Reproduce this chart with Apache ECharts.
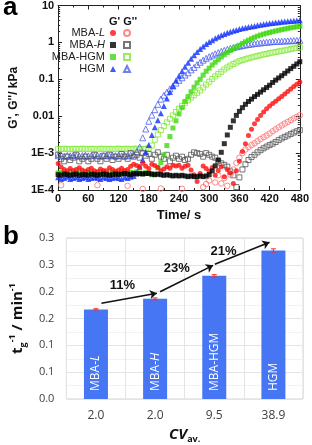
<!DOCTYPE html>
<html><head><meta charset="utf-8">
<script src="https://cdn.jsdelivr.net/npm/echarts@6/dist/echarts.min.js"></script>
<style>html,body{margin:0;padding:0;background:#fff}#c{width:312px;height:445px}</style>
</head><body><div id="c"></div>
<script>
// ---------- panel a data ----------
const times = [0,6,12,18,24,30,36,42,48,54,60,66,72,78,84,90,96,102,108,114,120,126,132,138,144,150,156,162,168,174,180,186,192,198,204,210,216,222,228,234,240,246,252,258,264,270,276,282,288,294,300,306,312,318,324,330,336,342,348,354,360,366,372,378,384,390,396,402,408,414,420,426,432,438,444,450,456,462,468,474,480];

const mbaL_G1 = [5.2e-4,4.2e-4,3.6e-4,3.3e-4,3.8e-4,3.4e-4,3.6e-4,4.0e-4,3.5e-4,3.2e-4,
3.6e-4,3.9e-4,3.3e-4,3.1e-4,3.7e-4,3.4e-4,3.3e-4,4.0e-4,3.6e-4,3.2e-4,
3.5e-4,3.9e-4,3.4e-4,3.6e-4,4.4e-4,5.0e-4,4.6e-4,4.2e-4,5.3e-4,4.4e-4,
3.8e-4,5.0e-4,4.6e-4,4.1e-4,3.3e-4,3.7e-4,4.3e-4,3.9e-4,4.7e-4,4.5e-4,
4.7e-4,3.9e-4,4.4e-4,4.7e-4,3.5e-4,2.6e-4,1.7e-4,2.8e-4,4.5e-4,3.8e-4,
3.2e-4,4.1e-4,2.5e-4,3.4e-4,4.3e-4,2.3e-4,3.6e-4,2.9e-4,1.5e-4,3.3e-4,
6.0e-4,1.1e-3,1.8e-3,3.0e-3,4.4e-3,6.2e-3,8.2e-3,0.0105,0.013,0.0158,
0.0188,0.022,0.0255,0.0295,0.034,0.040,0.047,0.055,0.064,0.074,0.085];

const mbaL_G2 = [null,1.35e-4,null,null,null,null,null,null,null,null,
null,null,null,1.35e-4,null,null,null,null,null,null,
null,null,null,1.3e-4,null,null,null,null,1.07e-4,null,
null,null,null,null,1.1e-4,null,null,null,null,null,
null,1.08e-4,null,null,null,null,null,null,1.2e-4,1.45e-4,
1.8e-4,null,1.6e-4,2.5e-4,1.5e-4,2.1e-4,1.3e-4,2.6e-4,3.6e-4,5.4e-4,
7.5e-4,1.0e-3,1.25e-3,1.45e-3,1.65e-3,1.85e-3,2.1e-3,2.4e-3,2.7e-3,3.0e-3,
3.4e-3,3.9e-3,4.4e-3,5.0e-3,5.6e-3,6.3e-3,7.0e-3,7.8e-3,8.7e-3,9.6e-3,0.0106];

const mbaH_G1 = [2.6e-4,2.5e-4,2.7e-4,2.6e-4,2.5e-4,2.6e-4,2.7e-4,2.5e-4,2.6e-4,2.6e-4,
2.5e-4,2.7e-4,2.6e-4,2.5e-4,2.6e-4,2.7e-4,2.6e-4,2.5e-4,2.6e-4,2.7e-4,
2.6e-4,2.7e-4,2.8e-4,2.7e-4,2.6e-4,2.8e-4,2.7e-4,2.8e-4,2.7e-4,2.8e-4,
2.8e-4,2.7e-4,2.6e-4,2.7e-4,2.6e-4,2.5e-4,2.6e-4,2.5e-4,2.4e-4,2.5e-4,
2.4e-4,2.5e-4,2.4e-4,2.3e-4,2.4e-4,2.3e-4,2.3e-4,2.4e-4,2.3e-4,2.4e-4,
2.6e-4,3.3e-4,4.5e-4,6.5e-4,1.05e-3,1.8e-3,3.1e-3,5.0e-3,7.5e-3,0.0105,
0.0135,0.017,0.021,0.025,0.029,0.034,0.039,0.045,0.052,0.060,
0.069,0.082,0.095,0.109,0.125,0.145,0.168,0.195,0.225,0.26,0.30];

const mbaH_G2 = [9e-4,7e-4,6e-4,8e-4,6.5e-4,7.5e-4,9e-4,6e-4,7e-4,8e-4,
6e-4,7e-4,9e-4,7e-4,6e-4,8.5e-4,7e-4,9e-4,6.5e-4,8e-4,
7e-4,9.5e-4,8e-4,7e-4,1e-3,8e-4,9e-4,7.5e-4,1e-3,8.5e-4,
9.5e-4,7e-4,9e-4,1.05e-3,8e-4,7e-4,9e-4,6e-4,7.5e-4,8.5e-4,
7e-4,8e-4,6.5e-4,7e-4,9e-4,1.05e-3,1e-3,9.5e-4,8e-4,1e-3,
9e-4,8e-4,7.5e-4,6e-4,5.3e-4,4.8e-4,4.3e-4,3.2e-4,2.5e-4,1.2e-4,
2.2e-4,3.6e-4,5e-4,6.5e-4,7.8e-4,9e-4,1.05e-3,1.2e-3,1.35e-3,1.5e-3,
1.65e-3,1.8e-3,2e-3,2.25e-3,2.5e-3,2.75e-3,3e-3,3.3e-3,3.6e-3,3.9e-3,4.2e-3];

const mbaHGM_G1 = [2.9e-4,3.0e-4,2.8e-4,2.9e-4,3.1e-4,2.8e-4,2.9e-4,3.0e-4,2.8e-4,2.9e-4,
3.0e-4,2.9e-4,2.8e-4,3.0e-4,2.9e-4,3.1e-4,2.8e-4,2.9e-4,3.0e-4,2.9e-4,
2.8e-4,3.0e-4,2.9e-4,2.8e-4,3.0e-4,2.9e-4,3.1e-4,2.9e-4,2.8e-4,3.0e-4,
2.9e-4,2.6e-4,2.7e-4,4.0e-4,5.5e-4,9.0e-4,1.6e-3,2.8e-3,4.8e-3,7.5e-3,
0.0115,0.017,0.025,0.034,0.046,0.061,0.08,0.10,0.13,0.165,
0.20,0.245,0.29,0.34,0.40,0.46,0.53,0.60,0.67,0.75,
0.84,0.94,1.04,1.15,1.26,1.37,1.48,1.58,1.68,1.77,
1.86,1.95,2.04,2.13,2.22,2.31,2.40,2.49,2.58,2.67,2.75];

const mbaHGM_G2 = [1.3e-3,1.28e-3,1.32e-3,1.3e-3,1.27e-3,1.31e-3,1.3e-3,1.29e-3,1.32e-3,1.3e-3,
1.28e-3,1.31e-3,1.3e-3,1.27e-3,1.32e-3,1.3e-3,1.29e-3,1.31e-3,1.28e-3,1.3e-3,
1.32e-3,1.29e-3,1.3e-3,1.31e-3,1.28e-3,1.3e-3,1.32e-3,1.29e-3,1.31e-3,1.3e-3,
1.35e-3,1.6e-3,2.3e-3,3.2e-3,4.2e-3,5.4e-3,6.8e-3,8.5e-3,0.0105,0.013,
0.016,0.019,0.023,0.027,0.032,0.037,0.043,0.050,0.060,0.072,
0.086,0.102,0.12,0.14,0.16,0.185,0.21,0.235,0.26,0.285,
0.31,0.33,0.35,0.37,0.39,0.41,0.43,0.45,0.47,0.49,
0.51,0.53,0.55,0.57,0.59,0.61,0.635,0.66,0.685,0.71,0.735];

const hgm_G1 = [2.2e-4,2.0e-4,2.1e-4,2.3e-4,2.0e-4,2.1e-4,2.2e-4,2.0e-4,2.1e-4,2.2e-4,
2.0e-4,2.1e-4,2.2e-4,2.1e-4,2.0e-4,2.2e-4,2.1e-4,2.0e-4,2.1e-4,2.2e-4,
2.1e-4,2.0e-4,2.2e-4,2.1e-4,2.3e-4,2.4e-4,3.0e-4,4.3e-4,6.5e-4,1.05e-3,
1.66e-3,3.1e-3,5.0e-3,7.8e-3,0.012,0.019,0.030,0.045,0.066,0.093,
0.125,0.165,0.22,0.28,0.36,0.45,0.55,0.66,0.78,0.90,
1.02,1.15,1.30,1.43,1.56,1.70,1.82,1.95,2.07,2.18,
2.30,2.40,2.50,2.60,2.70,2.80,2.90,3.00,3.10,3.20,
3.30,3.38,3.46,3.54,3.62,3.70,3.76,3.82,3.88,3.94,4.00];

const hgm_G2 = [8.5e-4,8.8e-4,8.3e-4,8.6e-4,8.4e-4,8.7e-4,8.5e-4,8.3e-4,8.6e-4,8.8e-4,
8.4e-4,8.6e-4,8.5e-4,8.7e-4,8.3e-4,8.5e-4,8.6e-4,8.4e-4,8.7e-4,8.5e-4,
8.6e-4,8.4e-4,8.8e-4,8.5e-4,8.7e-4,9.0e-4,1.1e-3,1.45e-3,2.6e-3,4.5e-3,
7.3e-3,0.0107,0.015,0.021,0.029,0.037,0.045,0.055,0.066,0.079,
0.094,0.11,0.13,0.15,0.18,0.21,0.25,0.29,0.33,0.37,
0.41,0.45,0.49,0.53,0.57,0.61,0.65,0.69,0.73,0.76,
0.79,0.82,0.85,0.88,0.90,0.93,0.95,0.97,0.99,1.01,
1.03,1.05,1.06,1.07,1.08,1.09,1.10,1.11,1.12,1.13,1.14];

const legendPlain = ['MBA-','MBA-','MBA-HGM','HGM'];
const legendItalic = ['L','H','',''];
const yTickLabelsA = {'-4':'1E-4','-3':'1E-3','-2':'0.01','-1':'0.1','0':'1','1':'10'};

// ---------- panel b data ----------
const cvLabels = ['2.0','2.0','9.5','38.9'];
const barPlain = ['MBA-','MBA-','MBA-HGM','HGM'];
const barItalic = ['L','H','',''];
const rates = [0.167,0.1866,0.2295,0.2768];
const rateErr = [0.0012,0.0018,0.0022,0.003];
const yTickLabelsB = ['0.0','0.1','0.1','0.2','0.2','0.3','0.3'];
const arrowFrom = [[0.093,0.1785],[1.084,0.200],[2.01,0.251]];
const arrowTo = [[1.03,0.197],[1.98,0.249],[2.934,0.292]];
const pctLabels = ['11%','23%','21%'];
const pctPos = [[0.447,0.211],[1.367,0.243],[2.157,0.2755]];

// ---------- build ----------
function pts(arr){ const out=[]; arr.forEach((v,i)=>{ if(v!=null) out.push([times[i], v]); }); return out; }
function sc(name, arr, symbol, size, fill, stroke){
  return {type:'scatter', name, xAxisIndex:0, yAxisIndex:0, data:pts(arr), symbol, symbolSize:size,
    itemStyle: fill ? {color:fill} : {color:'rgba(255,255,255,0)', borderColor:stroke, borderWidth:1},
    emphasis:{disabled:true}, silent:true, clip:true};
}
const AF = 'Liberation Sans';
const axStyle = {color:'#222', width:1};
const topAxisCommon = {
  axisLine:{show:true, onZero:false, lineStyle:axStyle},
  axisTick:{show:true, inside:true, length:4, lineStyle:axStyle},
  minorTick:{show:true, splitNumber:2, length:2, lineStyle:axStyle},
  splitLine:{show:false}
};
const legendFmt = name => { const i = legendPlain.map((p,k)=>p+legendItalic[k]).indexOf(name); return '{n|'+legendPlain[i]+'}' + (legendItalic[i] ? '{i|'+legendItalic[i]+'}' : ''); };

const option = {
  animation:false,
  backgroundColor:'#fff',
  title:[
    {text:'a', left:3, top:-5, padding:0, textStyle:{fontSize:26, fontWeight:'bold', color:'#000', fontFamily:AF}},
    {text:'b', left:3, top:224, padding:0, textStyle:{fontSize:26, fontWeight:'bold', color:'#000', fontFamily:AF}},
    {text:"G' G''", left:109, top:16, padding:0, textStyle:{fontSize:11, fontWeight:'bold', color:'#111', fontFamily:AF}}
  ],
  legend:[
    {data:['MBA-L','MBA-H','MBA-HGM','HGM'], orient:'vertical', align:'right', right:196, top:27, padding:0,
     itemWidth:6, itemHeight:6, itemGap:0, selectedMode:false, formatter:legendFmt,
     textStyle:{fontSize:11, color:'#222', fontFamily:AF, lineHeight:12,
       rich:{n:{fontSize:11, color:'#222', fontFamily:AF, lineHeight:12}, i:{fontSize:11, color:'#222', fontFamily:AF, fontStyle:'italic', lineHeight:12}}}},
    {data:["MBA-L G''","MBA-H G''","MBA-HGM G''","HGM G''"], orient:'vertical', left:123, top:27, padding:0,
     itemWidth:6, itemHeight:6, itemGap:0, selectedMode:false, formatter:()=>' ',
     textStyle:{fontSize:11, lineHeight:12}}
  ],
  grid:[
    {left:53, right:7, top:5, height:185},
    {left:58, right:9, top:238, height:163, show:true, borderColor:'#d4d4d4', borderWidth:1}
  ],
  xAxis:[
    Object.assign({gridIndex:0, type:'value', min:0, max:480, interval:60, position:'bottom',
      axisLabel:{margin:3, color:'#111', fontWeight:'bold', fontSize:11, fontFamily:AF},
      name:'Time/ s', nameLocation:'middle', nameGap:19,
      nameTextStyle:{fontWeight:'bold', fontSize:13, color:'#111', fontFamily:AF}}, topAxisCommon),
    Object.assign({gridIndex:0, type:'value', min:0, max:480, interval:60, position:'top',
      axisLabel:{show:false}}, topAxisCommon),
    {gridIndex:1, type:'category', data:cvLabels, boundaryGap:true,
      axisLine:{show:false}, axisTick:{show:false},
      axisLabel:{margin:11, color:'#404040', fontSize:12, fontFamily:'Open Sans'},
      splitLine:{show:true, lineStyle:{color:'#e4e4e4'}},
      name:'{cv|CV}{av|av.}', nameLocation:'middle', nameGap:27,
      nameTextStyle:{rich:{cv:{fontSize:15, fontWeight:'bold', fontStyle:'italic', color:'#111', fontFamily:'Open Sans', lineHeight:18},
                           av:{fontSize:9, fontWeight:'bold', color:'#111', fontFamily:'Open Sans', verticalAlign:'bottom', lineHeight:12, padding:[6,0,0,0]}}}},
    {gridIndex:1, type:'value', min:-0.5, max:3.5, show:false}
  ],
  yAxis:[
    Object.assign({gridIndex:0, type:'log', logBase:10, min:1e-4, max:10, splitNumber:5, position:'left',
      axisLabel:{margin:4, color:'#111', fontWeight:'bold', fontSize:11, fontFamily:AF,
        formatter:v=>yTickLabelsA[String(Math.round(Math.log10(v)))]},
      name:"G', G''/ kPa", nameLocation:'middle', nameGap:27,
      nameTextStyle:{fontWeight:'bold', fontSize:12, color:'#111', fontFamily:AF}}, topAxisCommon,
      {minorTick:{show:true, splitNumber:9, length:2, lineStyle:axStyle}}),
    Object.assign({gridIndex:0, type:'log', logBase:10, min:1e-4, max:10, splitNumber:5, position:'right',
      axisLabel:{show:false}}, topAxisCommon,
      {minorTick:{show:true, splitNumber:9, length:2, lineStyle:axStyle}}),
    {gridIndex:1, type:'value', min:0, max:0.3, interval:0.05,
      axisLine:{show:false}, axisTick:{show:false},
      axisLabel:{margin:12, color:'#404040', fontSize:11, fontFamily:'Open Sans',
        formatter:v=>yTickLabelsB[Math.round(v/0.05)]},
      splitLine:{show:true, lineStyle:{color:'#e4e4e4'}},
      minorSplitLine:{show:true, lineStyle:{color:'#f2f2f2'}},
      minorTick:{show:false, splitNumber:2},
      name:'{t|t}{g|g}{p|-1}{m| / min}{p|-1}', nameLocation:'middle', nameGap:30,
      nameTextStyle:{rich:{
        t:{fontSize:15, fontWeight:'bold', color:'#111', fontFamily:'Open Sans', lineHeight:20},
        g:{fontSize:9, fontWeight:'bold', color:'#111', fontFamily:'Open Sans', verticalAlign:'bottom', lineHeight:12},
        p:{fontSize:9, fontWeight:'bold', color:'#111', fontFamily:'Open Sans', verticalAlign:'top', lineHeight:12},
        m:{fontSize:15, fontWeight:'bold', color:'#111', fontFamily:'Open Sans', lineHeight:20}}}}
  ],
  series:[
    sc("MBA-HGM G''", mbaHGM_G2, 'rect', 5, null, '#7fe832'),
    sc("HGM G''", hgm_G2, 'triangle', 6, null, '#4d5ff0'),
    sc("MBA-H G''", mbaH_G2, 'rect', 5, null, '#555'),
    sc("MBA-L G''", mbaL_G2, 'circle', 5.5, null, '#ff6b6b'),
    sc('MBA-HGM', mbaHGM_G1, 'rect', 5, '#3fd80f', null),
    sc('HGM', hgm_G1, 'triangle', 6, '#1030ff', null),
    sc('MBA-L', mbaL_G1, 'circle', 5, '#ff0f0f', null),
    sc('MBA-H', mbaH_G1, 'rect', 5, '#000', null),
    {type:'bar', xAxisIndex:2, yAxisIndex:2, data:rates, barWidth:24, silent:true,
      itemStyle:{color:'#4676f3'},
      label:{show:true, position:'insideBottom', rotate:90, align:'left', verticalAlign:'middle', distance:8,
        formatter:p=>'{n|'+barPlain[p.dataIndex]+'}'+(barItalic[p.dataIndex]?'{i|'+barItalic[p.dataIndex]+'}':''),
        rich:{n:{color:'#fff', fontSize:12, fontFamily:'Open Sans'}, i:{color:'#fff', fontSize:12, fontStyle:'italic', fontFamily:'Open Sans'}}}},
    {type:'custom', xAxisIndex:2, yAxisIndex:2, silent:true, z:5,
      data:rates.map((v,i)=>[i, v-rateErr[i], v+rateErr[i]]),
      renderItem:(params, api)=>{
        const lo = api.coord([api.value(0), api.value(1)]);
        const hi = api.coord([api.value(0), api.value(2)]);
        const w = 2.5, st = {stroke:'#ff2a2a', lineWidth:1};
        return {type:'group', children:[
          {type:'line', shape:{x1:lo[0], y1:lo[1], x2:hi[0], y2:hi[1]}, style:st},
          {type:'line', shape:{x1:lo[0]-w, y1:lo[1], x2:lo[0]+w, y2:lo[1]}, style:st},
          {type:'line', shape:{x1:hi[0]-w, y1:hi[1], x2:hi[0]+w, y2:hi[1]}, style:st}]};
      }},
    {type:'lines', coordinateSystem:'cartesian2d', xAxisIndex:3, yAxisIndex:2, silent:true, z:6,
      data:arrowFrom.map((f,i)=>({coords:[f, arrowTo[i]]})),
      symbol:['none','arrow'], symbolSize:7,
      lineStyle:{color:'#111', width:1.6, opacity:1, curveness:0}},
    {type:'scatter', xAxisIndex:3, yAxisIndex:2, silent:true, z:7,
      data:pctPos, symbol:'circle', symbolSize:1, itemStyle:{color:'rgba(255,255,255,0)'},
      label:{show:true, position:'inside', formatter:p=>pctLabels[p.dataIndex],
        fontWeight:'bold', fontSize:13, color:'#111', fontFamily:AF, opacity:1}}
  ]
};
const chart = echarts.init(document.getElementById('c'), null, {renderer:'canvas'});
chart.setOption(option);
</script></body></html>
